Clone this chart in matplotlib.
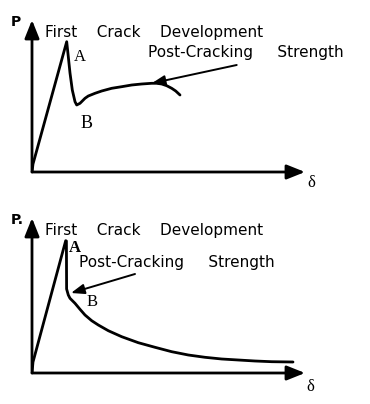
import matplotlib.pyplot as plt

# schematic load-deflection curves (arbitrary units)
top_delta = [0, 1, 34.7, 36.3, 38, 40.3, 43, 44.7, 48, 53, 56.3, 63, 69.7, 79.7, 89.7,
             99.7, 109.7, 119.7, 124.7, 129.7, 134.7, 139.7, 143.7, 148]
top_load = [0, 8, 130.3, 115.3, 99, 82, 70.3, 67, 68.7, 73.7, 76, 78.7, 81, 83.7, 85.3,
            87, 88, 88.7, 88.7, 88, 86.3, 83.7, 81, 77]

bot_delta = [0, 1, 33.7, 34.4, 34.6, 36.3, 38, 43, 48, 53, 59.7, 66.3, 76.3, 89.7, 106.3,
             123, 139.7, 156.3, 173, 189.7, 206.3, 223, 239.7, 261]
bot_load = [0, 11, 132.3, 132, 84, 78, 74.7, 69.7, 63.7, 58, 52.3, 48, 42.3, 36.3, 30.3,
            25.7, 21.3, 18, 15.7, 14, 13, 12, 11.3, 11]

top_arrow = [(204.7, 107), (119.7, 88.7)]   # tail, tip
bot_arrow = [(103, 99), (39, 80)]

W, H = 370, 404
fig = plt.figure(figsize=(W / 100, H / 100), dpi=100)

sans = 'DejaVu Sans'
serif = 'Liberation Serif'


def make_axes(x0, y0, x1, y1):
    # x0,y0 = origin pixel, x1 = x-arrow tip, y1 = y-arrow tip
    ax = fig.add_axes([x0 / W, (H - y0) / H, (x1 - x0) / W, (y0 - y1) / H])
    ax.set_xlim(0, x1 - x0)
    ax.set_ylim(0, y0 - y1)
    ax.axis('off')
    style = '-|>,head_length=1.0,head_width=0.4'
    ax.annotate('', xy=(x1 - x0, 0), xytext=(0, 0),
                arrowprops=dict(arrowstyle=style, mutation_scale=11, lw=2,
                                color='black', shrinkA=0, shrinkB=0))
    ax.annotate('', xy=(0, y0 - y1), xytext=(0, 0),
                arrowprops=dict(arrowstyle=style, mutation_scale=11, lw=2,
                                color='black', shrinkA=0, shrinkB=0))
    return ax


def pointer(ax, arrow):
    (tx, ty), (hx, hy) = arrow
    ax.annotate('', xy=(hx, hy), xytext=(tx, ty),
                arrowprops=dict(arrowstyle='-|>,head_length=0.8,head_width=0.3',
                                mutation_scale=10, lw=1.4, color='black',
                                shrinkA=0, shrinkB=0))


# ---- top chart
ax1 = make_axes(32, 172, 305, 20)
ax1.plot(top_delta, top_load, color='black', lw=2, solid_capstyle='round', solid_joinstyle='round')
pointer(ax1, top_arrow)
ax1.text(-16, 150, 'P', fontsize=10, family=sans, fontweight='bold', ha='center', va='center')
ax1.text(13, 140, 'First    Crack    Development', fontsize=11, family=sans, va='center')
ax1.text(116, 119, 'Post-Cracking     Strength', fontsize=11, family=sans, va='center')
ax1.text(48, 115, 'A', fontsize=12, family=serif, ha='center', va='center')
ax1.text(55, 49, 'B', fontsize=13, family=serif, ha='center', va='center')
ax1.text(279, -11, 'δ', fontsize=12, family=serif, ha='center', va='center')

# ---- bottom chart
ax2 = make_axes(32, 373, 305, 218)
ax2.plot(bot_delta, bot_load, color='black', lw=2, solid_capstyle='round', solid_joinstyle='round')
pointer(ax2, bot_arrow)
ax2.text(-15, 153, 'P.', fontsize=10, family=sans, fontweight='bold', ha='center', va='center')
ax2.text(13, 143, 'First    Crack    Development', fontsize=11, family=sans, va='center')
ax2.text(47, 111, 'Post-Cracking     Strength', fontsize=11, family=sans, va='center')
ax2.text(43, 125, 'A', fontsize=12, family=serif, fontweight='bold', ha='center', va='center')
ax2.text(60, 71, 'B', fontsize=12, family=serif, ha='center', va='center')
ax2.text(278, -14, 'δ', fontsize=12, family=serif, ha='center', va='center')

fig.savefig('out.png', dpi=100, facecolor='white')
